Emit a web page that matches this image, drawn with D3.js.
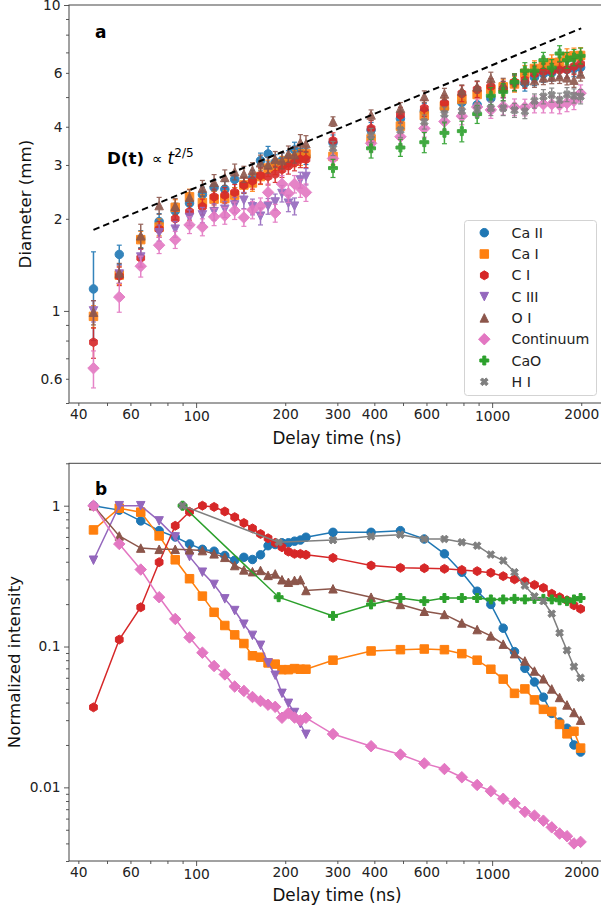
<!DOCTYPE html>
<html>
<head>
<meta charset="utf-8">
<script src="https://cdn.jsdelivr.net/npm/d3@7"></script>
<style>
body{margin:0;background:#fff}
svg{display:block;font-family:"DejaVu Sans",sans-serif}
</style>
</head>
<body>
<div id="chart"></div>
<script>
// series meta
var names=["Ca II","Ca I","C I","C III","O I","Continuum","CaO","H I"];
var colors=["#1f77b4","#ff7f0e","#d62728","#9467bd","#8c564b","#e377c2","#2ca02c","#7f7f7f"];
var shapes=["o","s","h","v","^","D","P","X"];

// delay times (ns)
var tEarly=[45,55,65,75,85,95,105,115,125,135,145,155,165,175,185,195,205,215,225,235];
var tLate=[290,390,490,590,690,790,890,990,1090,1190,1290,1390,1490,1590,1690,1790,1890,1990];
var tAll=tEarly.concat(tLate);
var tSparse=[90,190].concat(tLate);

// panel a : diameter (mm) and error
var diaCaII=[1.18,1.53,1.72,1.96,2.12,2.25,2.40,2.53,2.50,2.69,2.58,2.72,3.10,3.26,3.06,3.10,3.15,3.36,3.30,3.20,
             3.55,3.90,4.25,4.50,4.60,4.80,4.72,4.95,5.30,5.55,5.56,5.80,5.95,6.00,6.20,6.15,6.20,6.25];
var diaCaI=[0.96,1.31,1.71,1.88,2.18,2.36,2.26,2.32,2.33,2.39,2.58,2.62,2.75,2.93,2.97,3.02,3.08,3.15,3.18,3.26,
            3.20,3.65,4.02,4.35,4.68,4.92,5.10,5.30,5.40,5.52,5.98,6.20,6.32,6.48,6.50,6.78,6.82,6.84];
var diaCI=[0.79,1.30,1.49,1.85,2.00,2.11,2.19,2.36,2.39,2.44,2.58,2.66,2.77,2.75,2.80,2.90,2.98,3.05,3.13,3.13,
           3.60,3.95,4.37,4.60,4.78,5.14,5.30,5.42,5.32,5.60,5.68,5.96,6.06,6.08,6.13,6.15,6.30,6.42];
var diaCIII=[1.00,1.32,1.50,1.80,1.85,2.02,2.06,2.11,2.15,2.22,2.30,2.19,2.04,2.20,2.27,2.42,2.25,2.20,2.68,2.75];
var diaOI=[0.99,1.33,1.76,2.21,2.20,2.35,2.52,2.63,2.73,2.85,2.80,2.88,3.05,3.00,3.13,3.10,3.26,3.24,3.55,3.52,
           4.16,4.37,4.60,5.02,5.12,5.24,5.40,5.75,5.50,5.68,5.66,5.66,5.78,5.82,5.84,5.78,5.68,5.95];
var diaCont=[0.65,1.11,1.40,1.64,1.71,1.91,1.88,2.03,2.05,2.13,2.02,2.14,2.20,2.44,2.09,2.60,2.42,2.60,2.52,2.44,
             3.15,3.53,3.71,3.95,4.16,4.33,4.64,4.54,4.66,4.64,4.63,4.74,4.74,4.74,4.71,4.78,4.86,5.15];
var diaCaO=[2.93,3.40,3.42,3.56,3.82,3.87,4.40,5.05,5.20,5.60,6.10,6.10,6.60,6.24,6.94,6.60,6.74,6.82];
var diaHI=[3.40,3.75,3.90,4.15,4.40,4.50,4.55,4.60,4.60,4.53,4.49,4.86,5.02,5.08,4.89,5.10,5.05,5.02];

var errCaII=[0.38,0.11,0.11,0.12,0.13,0.14,0.14,0.15,0.15,0.16,0.16,0.16,0.18,0.19,0.18,0.18,0.19,0.20,0.20,0.19,
             0.21,0.23,0.25,0.27,0.28,0.29,0.28,0.30,0.32,0.33,0.33,0.35,0.36,0.36,0.37,0.37,0.37,0.38];
var errCaI=[0.08,0.09,0.11,0.12,0.13,0.14,0.14,0.14,0.14,0.14,0.15,0.16,0.16,0.18,0.18,0.18,0.18,0.19,0.19,0.20,
            0.20,0.22,0.24,0.26,0.28,0.30,0.31,0.32,0.32,0.33,0.36,0.37,0.38,0.39,0.39,0.41,0.41,0.41];
var errCI=[0.09,0.09,0.10,0.11,0.12,0.13,0.13,0.14,0.14,0.15,0.15,0.16,0.17,0.17,0.17,0.17,0.18,0.18,0.19,0.19,
           0.22,0.24,0.26,0.28,0.29,0.31,0.32,0.33,0.32,0.34,0.34,0.36,0.36,0.36,0.37,0.37,0.38,0.39];
var errCIII=[0.08,0.09,0.10,0.11,0.11,0.12,0.12,0.13,0.13,0.13,0.14,0.13,0.13,0.13,0.14,0.15,0.14,0.14,0.16,0.17];
var errOI=[0.09,0.10,0.16,0.14,0.13,0.14,0.15,0.16,0.16,0.17,0.17,0.17,0.18,0.18,0.19,0.19,0.20,0.20,0.22,0.22,
           0.15,0.17,0.20,0.22,0.22,0.24,0.25,0.28,0.26,0.28,0.28,0.28,0.29,0.29,0.30,0.30,0.30,0.31];
var errCont=[0.09,0.12,0.11,0.10,0.11,0.12,0.12,0.13,0.13,0.14,0.13,0.14,0.14,0.16,0.14,0.17,0.16,0.17,0.17,0.16,
             0.20,0.22,0.23,0.25,0.26,0.27,0.29,0.28,0.29,0.29,0.29,0.30,0.30,0.30,0.30,0.30,0.31,0.33];
var errCaO=[0.20,0.24,0.22,0.27,0.30,0.30,0.30,0.32,0.33,0.35,0.38,0.38,0.40,0.39,0.42,0.40,0.41,0.41];
var errHI=[0.18,0.20,0.21,0.22,0.24,0.24,0.24,0.25,0.25,0.24,0.24,0.26,0.27,0.27,0.26,0.27,0.27,0.27];

// power law guide D(t) ~ t^(2/5), end points
var fitLine=[[45,1.84],[2000,8.39]];

// panel b : normalized intensity
var intCaII=[1.0,0.93,0.78,0.665,0.60,0.535,0.49,0.475,0.443,0.41,0.43,0.415,0.448,0.52,0.53,0.545,0.545,0.56,0.57,0.597,
             0.647,0.647,0.665,0.58,0.455,0.337,0.247,0.199,0.135,0.092,0.070,0.056,0.0437,0.0335,0.0291,0.0263,0.020,0.0178];
var intCaI=[0.673,0.96,0.90,0.61,0.413,0.303,0.228,0.175,0.141,0.121,0.105,0.086,0.084,0.0765,0.075,0.0685,0.0685,0.0697,0.069,0.069,
            0.080,0.093,0.095,0.096,0.095,0.089,0.080,0.069,0.0587,0.0465,0.050,0.0418,0.0358,0.0346,0.028,0.024,0.025,0.019];
var intCI=[0.037,0.112,0.19,0.397,0.72,0.905,1.0,0.98,0.91,0.83,0.754,0.69,0.63,0.587,0.545,0.507,0.472,0.455,0.455,0.448,
           0.426,0.376,0.362,0.36,0.356,0.35,0.343,0.334,0.316,0.30,0.29,0.274,0.261,0.237,0.224,0.213,0.196,0.185];
var intCIII=[0.41,1.0,1.0,0.78,0.60,0.435,0.337,0.276,0.218,0.18,0.144,0.12,0.102,0.0765,0.0625,0.0465,0.0395,0.034,0.0283,0.0238];
var intOI=[1.0,0.61,0.50,0.49,0.49,0.486,0.48,0.455,0.43,0.376,0.35,0.34,0.347,0.32,0.328,0.298,0.286,0.295,0.298,0.25,
           0.257,0.224,0.199,0.178,0.169,0.147,0.132,0.119,0.104,0.089,0.079,0.067,0.059,0.05,0.0435,0.0385,0.034,0.030];
var intCont=[1.0,0.535,0.352,0.224,0.157,0.116,0.0904,0.0727,0.0634,0.052,0.0484,0.0438,0.041,0.0386,0.0373,0.0312,0.0337,0.0313,0.0299,0.0312,
             0.0239,0.0196,0.0171,0.0148,0.0135,0.0118,0.0104,0.0094,0.0083,0.0077,0.0067,0.0063,0.0058,0.0052,0.0047,0.0045,0.0040,0.0041];
var intCaO=[1.0,0.224,0.165,0.199,0.221,0.21,0.221,0.221,0.221,0.216,0.216,0.218,0.216,0.218,0.218,0.216,0.213,0.21,0.216,0.221];
var intHI=[1.0,0.55,0.57,0.606,0.623,0.58,0.58,0.55,0.52,0.45,0.408,0.337,0.271,0.227,0.21,0.171,0.125,0.094,0.072,0.06];

// ticks
var xMajor=[100,1000];
var xMinor=[40,50,60,70,80,90,200,300,400,500,600,700,800,900,2000];
var xLabeled=[40,60,100,200,300,400,600,1000,2000];
var yaMajor=[1,10];
var yaMinor=[0.5,0.6,0.7,0.8,0.9,2,3,4,5,6,7,8,9];
var yaLabeled=[0.6,1,2,3,4,6,10];
var ybMajor=[0.01,0.1,1];
var ybMinor=[0.003,0.004,0.005,0.006,0.007,0.008,0.009,0.02,0.03,0.04,0.05,0.06,0.07,0.08,0.09,0.2,0.3,0.4,0.5,0.6,0.7,0.8,0.9,2];

var width=601,height=910;
var xLeft=69,xRight=605;
var spine="#444";

var x=d3.scaleLog().domain([37.2,2406]).range([xLeft,xRight]);
var yA=d3.scaleLog().domain([0.5,10]).range([403,5]);
var yB=d3.scaleLog().domain([0.003,2]).range([861,463.3]);

// marker outline for matplotlib-like shapes, size s in px
function markerPath(shape,s){
    var r=s/2,p;
    switch(shape){
    case "o": return d3.symbol().type(d3.symbolCircle).size(Math.PI*r*r)();
    case "s": p=[[-r,-r],[r,-r],[r,r],[-r,r]]; break;
    case "^": p=[[0,-r],[r,r],[-r,r]]; break;
    case "v": p=[[0,r],[r,-r],[-r,-r]]; break;
    case "D": var q=r*1.35; p=[[0,-q],[q,0],[0,q],[-q,0]]; break;
    case "h": p=d3.range(6).map(function(k){var a=Math.PI/2+k*Math.PI/3;return [r*1.05*Math.cos(a),-r*1.05*Math.sin(a)];}); break;
    case "P": var w=r/3*1.05,R=r*1.05;
        p=[[-w,-R],[w,-R],[w,-w],[R,-w],[R,w],[w,w],[w,R],[-w,R],[-w,w],[-R,w],[-R,-w],[-w,-w]]; break;
    case "X": var w2=r/3,R2=r*0.95;
        p=[[-w2,-R2],[w2,-R2],[w2,-w2],[R2,-w2],[R2,w2],[w2,w2],[w2,R2],[-w2,R2],[-w2,w2],[-R2,w2],[-R2,-w2],[-w2,-w2]]
          .map(function(v){var c=Math.SQRT1_2;return [c*(v[0]-v[1]),c*(v[0]+v[1])];}); break;
    }
    return "M"+p.map(function(v){return v[0].toFixed(2)+","+v[1].toFixed(2);}).join("L")+"Z";
}

var svg=d3.select("#chart").append("svg").attr("width",width).attr("height",height);

function drawAxes(y,yMajor,yMinor,yFmt,xLabelY){
    var r=y.range();
    var g=svg.append("g");
    var bottom=r[0],top=r[1];
    g.append("g").attr("transform","translate(0,"+bottom+")")
        .call(d3.axisBottom(x).tickValues(xMajor).tickSize(5).tickPadding(3.5).tickFormat(function(d){return d;}));
    g.append("g").attr("transform","translate(0,"+bottom+")")
        .call(d3.axisBottom(x).tickValues(xMinor).tickSize(3).tickPadding(3.5)
            .tickFormat(function(d){return xLabeled.indexOf(d)>=0?d:"";}));
    g.append("g").attr("transform","translate("+xLeft+",0)")
        .call(d3.axisLeft(y).tickValues(yMajor).tickSize(5).tickPadding(3.5).tickFormat(yFmt));
    g.append("g").attr("transform","translate("+xLeft+",0)")
        .call(d3.axisLeft(y).tickValues(yMinor).tickSize(3).tickPadding(3.5).tickFormat(yFmt));
    g.selectAll(".domain").remove();
    g.selectAll(".tick line").attr("stroke",spine).attr("stroke-width",0.9);
    g.selectAll(".tick text").attr("fill","#222").style("font-size","13.8px").style("font-family","DejaVu Sans");
    g.append("rect").attr("x",xLeft).attr("y",top).attr("width",xRight-xLeft).attr("height",bottom-top)
        .attr("fill","none").attr("stroke",spine).attr("stroke-width",1);
    g.append("text").attr("x",337).attr("y",xLabelY).attr("text-anchor","middle")
        .attr("dominant-baseline","central").attr("fill","#111").style("font-size","16.8px").text("Delay time (ns)");
}

// ---------- panel a
var topSeries=[
    {t:tAll,v:diaCaII,e:errCaII},{t:tAll,v:diaCaI,e:errCaI},{t:tAll,v:diaCI,e:errCI},
    {t:tEarly,v:diaCIII,e:errCIII},{t:tAll,v:diaOI,e:errOI},{t:tAll,v:diaCont,e:errCont},
    {t:tLate,v:diaCaO,e:errCaO},{t:tLate,v:diaHI,e:errHI}];

drawAxes(yA,yaMajor,yaMinor,function(d){return yaLabeled.indexOf(d)>=0?(d<1?d.toFixed(1):d):"";},438);

var gA=svg.append("g");
topSeries.forEach(function(s,i){
    var g=gA.append("g").attr("opacity",0.9);
    var pts=s.t.map(function(t,j){return {t:t,v:s.v[j],e:s.e[j]};});
    g.selectAll("line.bar").data(pts).enter().append("line")
        .attr("x1",function(d){return x(d.t);}).attr("x2",function(d){return x(d.t);})
        .attr("y1",function(d){return yA(d.v-d.e);}).attr("y2",function(d){return yA(d.v+d.e);})
        .attr("stroke",colors[i]).attr("stroke-width",1.5);
    [-1,1].forEach(function(sg){
        g.selectAll(null).data(pts).enter().append("line")
            .attr("x1",function(d){return x(d.t)-2.5;}).attr("x2",function(d){return x(d.t)+2.5;})
            .attr("y1",function(d){return yA(d.v+sg*d.e);}).attr("y2",function(d){return yA(d.v+sg*d.e);})
            .attr("stroke",colors[i]).attr("stroke-width",1.2);
    });
    g.selectAll("path").data(pts).enter().append("path")
        .attr("d",markerPath(shapes[i],8.5))
        .attr("transform",function(d){return "translate("+x(d.t)+","+yA(d.v)+")";})
        .attr("fill",colors[i]).attr("stroke",colors[i]).attr("stroke-width",1);
});

gA.append("path")
    .attr("d",d3.line().x(function(d){return x(d[0]);}).y(function(d){return yA(d[1]);})(fitLine))
    .attr("fill","none").attr("stroke","#000").attr("stroke-width",2).attr("stroke-dasharray","6.5,4");

svg.append("text").attr("x",95).attr("y",38).style("font-size","17px").style("font-weight","bold").text("a");
var fit=svg.append("text").attr("x",107).attr("y",164).attr("fill","#000");
fit.append("tspan").style("font-size","16.7px").style("font-weight","bold").text("D(t)");
fit.append("tspan").attr("dx",8).style("font-size","15px").text("\u221d ");
fit.append("tspan").style("font-size","17px").style("font-style","italic").text("t");
fit.append("tspan").attr("dy",-7).style("font-size","12px").text("2/5");

svg.append("text").attr("transform","translate(25,204) rotate(-90)").attr("text-anchor","middle")
    .attr("dominant-baseline","central").attr("fill","#111").style("font-size","16.7px").text("Diameter (mm)");

// legend
var leg=svg.append("g");
leg.append("rect").attr("x",464.5).attr("y",220.5).attr("width",132).attr("height",175).attr("rx",3)
    .attr("fill","#fff").attr("fill-opacity",0.85).attr("stroke","#d3d3d3").attr("stroke-width",1);
names.forEach(function(n,i){
    var yy=232.7+i*21.3;
    leg.append("path").attr("d",markerPath(shapes[i],8.5)).attr("transform","translate(484.3,"+yy+")")
        .attr("fill",colors[i]).attr("stroke",colors[i]).attr("stroke-width",1);
    leg.append("text").attr("x",511.5).attr("y",yy).attr("dominant-baseline","central")
        .attr("fill","#222").style("font-size","14.2px").text(n);
});

// ---------- panel b
var botSeries=[
    {t:tAll,v:intCaII},{t:tAll,v:intCaI},{t:tAll,v:intCI},{t:tEarly,v:intCIII},
    {t:tAll,v:intOI},{t:tAll,v:intCont},{t:tSparse,v:intCaO},{t:tSparse,v:intHI}];

drawAxes(yB,ybMajor,ybMinor,function(d){return ybMajor.indexOf(d)>=0?d:"";},895);

var gB=svg.append("g");
var line=d3.line().x(function(d){return x(d.t);}).y(function(d){return yB(d.v);});
botSeries.forEach(function(s,i){
    var pts=s.t.map(function(t,j){return {t:t,v:s.v[j]};});
    var g=gB.append("g");
    g.append("path").attr("d",line(pts)).attr("fill","none").attr("stroke",colors[i]).attr("stroke-width",1.5);
    g.selectAll("path.m").data(pts).enter().append("path").attr("class","m")
        .attr("d",markerPath(shapes[i],8.5))
        .attr("transform",function(d){return "translate("+x(d.t)+","+yB(d.v)+")";})
        .attr("fill",colors[i]).attr("stroke",colors[i]).attr("stroke-width",1);
});

svg.append("text").attr("x",95).attr("y",495).style("font-size","17px").style("font-weight","bold").text("b");
svg.append("text").attr("transform","translate(14,662) rotate(-90)").attr("text-anchor","middle")
    .attr("dominant-baseline","central").attr("fill","#111").style("font-size","16.7px").text("Normalized intensity");
</script>
</body>
</html>
